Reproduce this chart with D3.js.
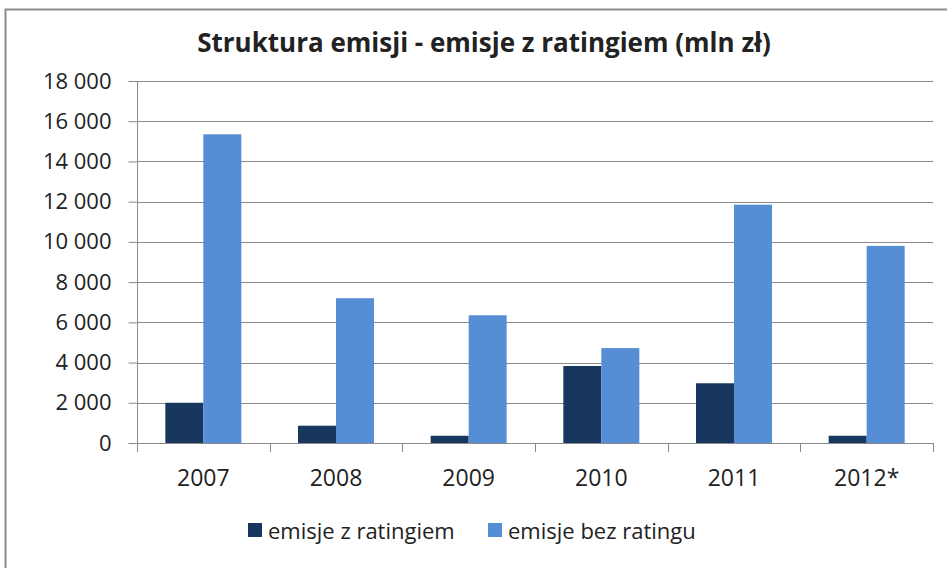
<!DOCTYPE html>
<html>
<head>
<meta charset="utf-8">
<script src="https://cdn.jsdelivr.net/npm/d3@7"></script>
<style>
  body { margin: 0; background: #fff; }
  text { font-family: "Open Sans", "Noto Sans", sans-serif; fill: #222; }
</style>
</head>
<body>
<div id="chartDiv"></div>
<script>
const years = ["2007", "2008", "2009", "2010", "2011", "2012*"];
const seriesNames = ["emisje z ratingiem", "emisje bez ratingu"];
const zRatingiem = [2000, 860, 360, 3830, 2970, 360];
const bezRatingu = [15350, 7200, 6350, 4720, 11850, 9800];
const yTicks = [0, 2000, 4000, 6000, 8000, 10000, 12000, 14000, 16000, 18000];
const colors = ["#17375e", "#558ed5"];

const W = 947, H = 568;
const margin = { left: 137, right: 14, top: 81, bottom: 125 };
const font = '"Open Sans", "Noto Sans", sans-serif';

const svg = d3.select('#chartDiv').append('svg')
    .attr('width', W).attr('height', H);

// chart frame
svg.append('rect')
    .attr('x', 5.5).attr('y', 9.5)
    .attr('width', W + 20).attr('height', H + 20)
    .attr('fill', 'none').attr('stroke', '#8c8c8c').attr('stroke-width', 2);

svg.append('text')
    .attr('x', 484).attr('y', 52)
    .attr('text-anchor', 'middle')
    .attr('font-size', 26).attr('font-weight', 'bold')
    .text('Struktura emisji - emisje z ratingiem (mln zł)');

const x = d3.scaleBand().domain(years)
    .range([margin.left, W - margin.right]);
const y = d3.scaleLinear().domain([0, 18000])
    .range([H - margin.bottom, margin.top]);

const fmt = v => d3.format(',')(v).replace(/,/g, ' ');

// gridlines
svg.append('g').selectAll('line').data(yTicks.filter(d => d > 0)).enter()
    .append('line')
    .attr('x1', margin.left).attr('x2', W - margin.right)
    .attr('y1', d => Math.round(y(d)) + 0.5).attr('y2', d => Math.round(y(d)) + 0.5)
    .attr('stroke', '#8a8a8a').attr('stroke-width', 1);

// bars
const bw = 38;
const data = years.map((yr, i) => ({ yr, vals: [zRatingiem[i], bezRatingu[i]] }));
const groups = svg.append('g').selectAll('g').data(data).enter().append('g');
groups.selectAll('rect')
    .data(d => d.vals.map((v, k) => ({ yr: d.yr, v, k })))
    .enter().append('rect')
    .attr('x', d => x(d.yr) + x.bandwidth() / 2 - bw + d.k * bw)
    .attr('width', bw)
    .attr('y', d => y(d.v))
    .attr('height', d => y(0) - y(d.v))
    .attr('fill', d => colors[d.k]);

// y axis
const yAxis = svg.append('g')
    .attr('transform', `translate(${margin.left + 0.5},0)`)
    .call(d3.axisLeft(y).tickValues(yTicks).tickSize(9).tickPadding(17).tickFormat(fmt));
yAxis.selectAll('line, path').attr('stroke', '#8a8a8a');
yAxis.select('.domain').attr('d', `M0,${margin.top}V${y(0)}`);
yAxis.selectAll('text').attr('font-size', 22).attr('fill', '#222')
    .attr('font-family', font);

// x axis
const xAxis = svg.append('g')
    .attr('transform', `translate(0,${Math.round(y(0)) + 0.5})`)
    .call(d3.axisBottom(x).tickSize(0).tickPadding(26));
xAxis.select('.domain').attr('stroke', '#8a8a8a')
    .attr('d', `M${margin.left},0H${W - margin.right}`);
xAxis.selectAll('text').attr('font-size', 23).attr('fill', '#222')
    .attr('font-family', font);
// category separators
svg.append('g').selectAll('line')
    .data(years.map(d => x(d)).concat([W - margin.right])).enter()
    .append('line')
    .attr('x1', d => Math.round(d) + 0.5).attr('x2', d => Math.round(d) + 0.5)
    .attr('y1', y(0)).attr('y2', y(0) + 9)
    .attr('stroke', '#8a8a8a');

// legend
const legendX = [248, 488];
const legend = svg.append('g').selectAll('g').data(seriesNames).enter()
    .append('g')
    .attr('transform', (d, i) => `translate(${legendX[i]},523)`);
legend.append('rect').attr('width', 14).attr('height', 14)
    .attr('fill', (d, i) => colors[i]);
legend.append('text').attr('x', 20).attr('y', 16)
    .attr('font-size', 22).text(d => d);
</script>
</body>
</html>
